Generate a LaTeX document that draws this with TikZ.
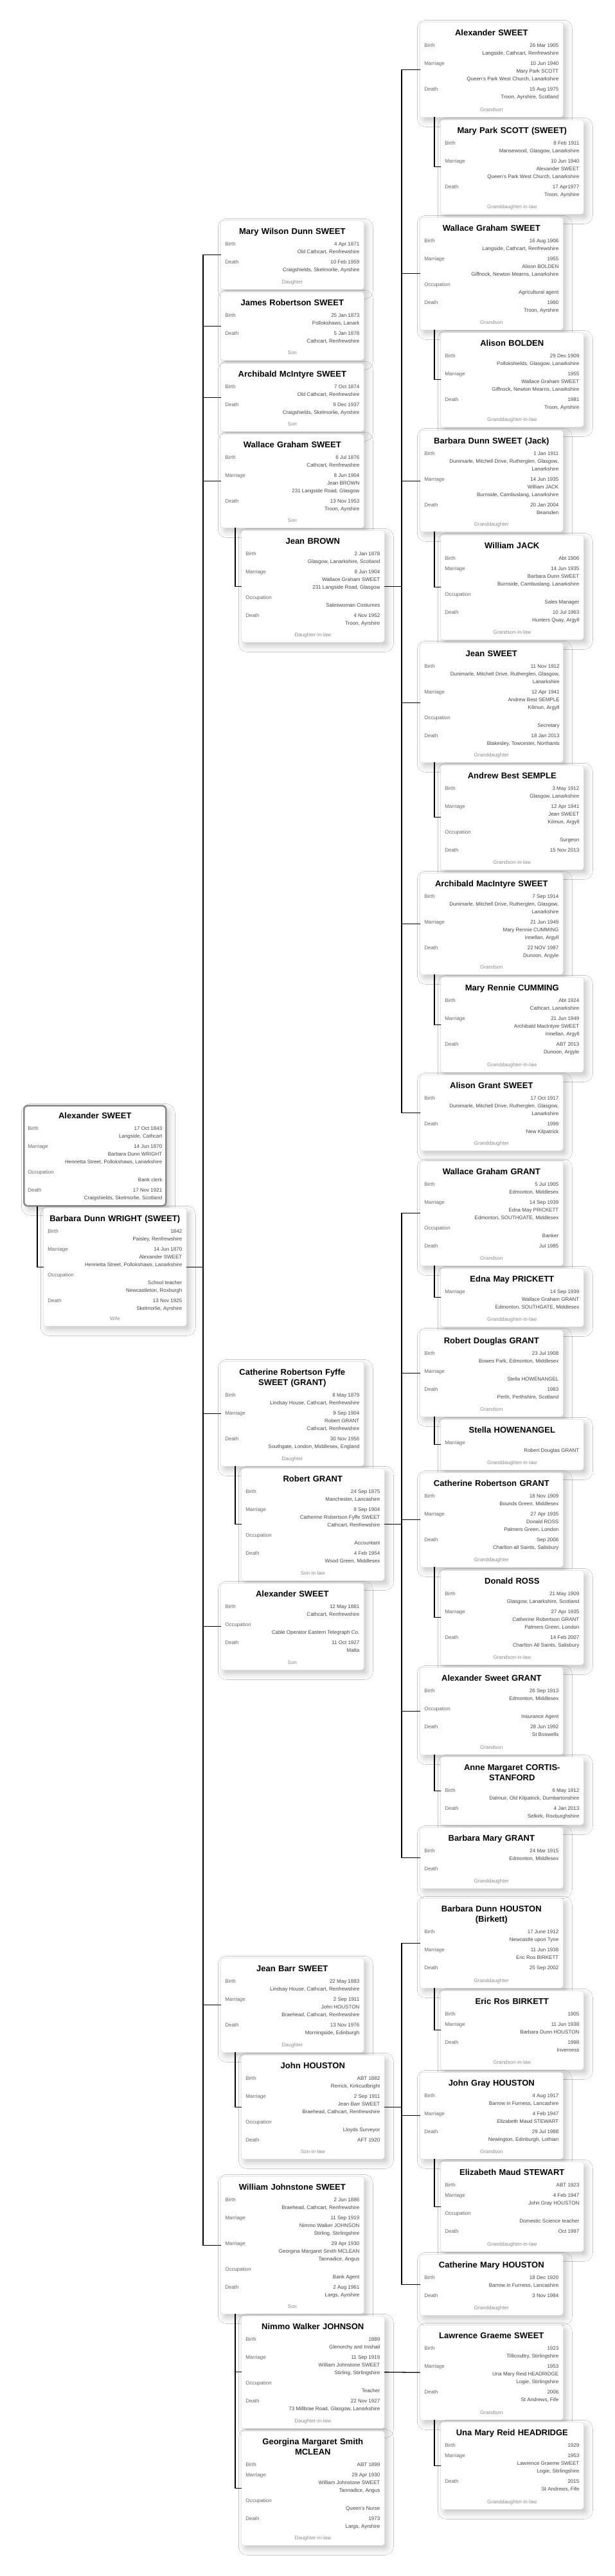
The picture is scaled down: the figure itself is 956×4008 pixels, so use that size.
\documentclass[tikz,border=0pt]{standalone}
\usepackage{fontspec}
\setmainfont{Liberation Sans}
\usepackage{array}
\usepackage{tikz}
\usetikzlibrary{positioning, calc, shadows.blur}
\usepackage{xcolor}

\definecolor{cardline}{HTML}{DDDDDD}
\definecolor{rootline}{HTML}{8A8A8A}
\definecolor{labelgrey}{HTML}{666666}
\definecolor{valuegrey}{HTML}{444444}
\definecolor{relgrey}{HTML}{8C8C8C}

% id, extra style, x, top, height, name, rows, relation
\newcommand{\card}[8]{%
  \node [card, #2, minimum height=#5pt] (#1) at (#3,#4) {};
  \node [cardtitle] (#1-t) at ([yshift=-10.5pt]#1.north) {\strut #6\strut};
  \node [cardrows] (#1-r) at ([yshift=-4pt]#1-t.south) {\begin{tabular*}{209pt}[t]{@{}>{\color{labelgrey}}l@{\extracolsep{\fill}}>{\color{valuegrey}}r@{}}#7\end{tabular*}};
  \node [cardrel] (#1-l) at ([yshift=9pt]#1.south) {#8};
}

\begin{document}
\begin{tikzpicture}[
    x=1pt, y=-1pt,
    card/.style={draw=cardline, fill=white, line width=0.6pt, rounded corners=4pt, minimum width=223pt, inner sep=0pt, anchor=north west,
      blur shadow={shadow xshift=5pt, shadow yshift=-6pt, shadow blur radius=9pt, shadow opacity=22}},
    rootcard/.style={draw=rootline, line width=2.6pt, rounded corners=6pt, minimum width=221pt},
    cardtitle/.style={anchor=north, text width=209pt, align=center, inner sep=0pt, font=\fontsize{13}{16}\selectfont\bfseries},
    cardrows/.style={anchor=north, inner sep=0pt, font=\fontsize{8}{12}\selectfont},
    cardrel/.style={anchor=base, inner sep=0pt, text=relgrey, font=\fontsize{8}{10}\selectfont},
    link/.style={draw, line width=1.3pt, line cap=rect}
]

    \path [use as bounding box, fill=white] (0,0) rectangle (956,4008);

    % the couple
    \card{root}{rootcard}{36}{1719}{156}{Alexander SWEET}{Birth & 17 Oct 1843\\ & Langside, Cathcart\\[4pt] Marriage & 14 Jun 1870\\ & Barbara Dunn WRIGHT\\ & Henrietta Street, Pollokshaws, Lanarkshire\\[4pt] Occupation & \\ & Bank clerk\\[4pt] Death & 17 Nov 1921\\ & Craigshields, Skelmorlie, Scotland}{}
    \card{wright}{}{67}{1879}{184}{Barbara Dunn WRIGHT (SWEET)}{Birth & 1842\\ & Paisley, Renfrewshire\\[4pt] Marriage & 14 Jun 1870\\ & Alexander SWEET\\ & Henrietta Street, Pollokshaws, Lanarkshire\\[4pt] Occupation & \\ & School teacher\\ & Newcastleton, Roxburgh\\[4pt] Death & 13 Nov 1925\\ & Skelmorlie, Ayrshire}{Wife}

    % children
    \card{mary}{}{343}{343}{107}{Mary Wilson Dunn SWEET}{Birth & 4 Apr 1871\\ & Old Cathcart, Renfrewshire\\[4pt] Death & 10 Feb 1959\\ & Craigshields, Skelmorlie, Ayrshire}{Daughter}
    \card{james}{}{343}{454}{106}{James Robertson SWEET}{Birth & 25 Jan 1873\\ & Pollokshaws, Lanark\\[4pt] Death & 5 Jan 1878\\ & Cathcart, Renfrewshire}{Son}
    \card{archie}{}{343}{565}{106}{Archibald McIntyre SWEET}{Birth & 7 Oct 1874\\ & Old Cathcart, Renfrewshire\\[4pt] Death & 9 Dec 1937\\ & Craigshields, Skelmorlie, Ayrshire}{Son}
    \card{wallace}{}{343}{675}{146}{Wallace Graham SWEET}{Birth & 6 Jul 1876\\ & Cathcart, Renfrewshire\\[4pt] Marriage & 8 Jun 1904\\ & Jean BROWN\\ & 231 Langside Road, Glasgow\\[4pt] Death & 13 Nov 1953\\ & Troon, Ayrshire}{Son}
    \card{brown}{}{375}{825}{174}{Jean BROWN}{Birth & 2 Jan 1878\\ & Glasgow, Lanarkshire, Scotland\\[4pt] Marriage & 8 Jun 1904\\ & Wallace Graham SWEET\\ & 231 Langside Road, Glasgow\\[4pt] Occupation & \\ & Saleswoman Costumes\\[4pt] Death & 4 Nov 1952\\ & Troon, Ayrshire}{Daughter-in-law}
    \card{cathy}{}{343}{2118}{163}{Catherine Robertson Fyffe\\SWEET (GRANT)}{Birth & 8 May 1879\\ & Lindsay House, Cathcart, Renfrewshire\\[4pt] Marriage & 9 Sep 1904\\ & Robert GRANT\\ & Cathcart, Renfrewshire\\[4pt] Death & 30 Nov 1956\\ & Southgate, London, Middlesex, England}{Daughter}
    \card{rgrant}{}{375}{2284}{175}{Robert GRANT}{Birth & 24 Sep 1875\\ & Manchester, Lancashire\\[4pt] Marriage & 9 Sep 1904\\ & Catherine Robertson Fyffe SWEET\\ & Cathcart, Renfrewshire\\[4pt] Occupation & \\ & Accountant\\[4pt] Death & 4 Feb 1954\\ & Wood Green, Middlesex}{Son-in-law}
    \card{alex}{}{343}{2463}{135}{Alexander SWEET}{Birth & 12 May 1881\\ & Cathcart, Renfrewshire\\[4pt] Occupation & \\ & Cable Operator Eastern Telegraph Co.\\[4pt] Death & 11 Oct 1927\\ & Malta}{Son}
    \card{jeanb}{}{343}{3046}{147}{Jean Barr SWEET}{Birth & 22 May 1883\\ & Lindsay House, Cathcart, Renfrewshire\\[4pt] Marriage & 2 Sep 1911\\ & John HOUSTON\\ & Braehead, Cathcart, Renfrewshire\\[4pt] Death & 13 Nov 1976\\ & Morningside, Edinburgh}{Daughter}
    \card{jhouston}{}{375}{3197}{162}{John HOUSTON}{Birth & ABT 1882\\ & Rerrick, Kirkcudbright\\[4pt] Marriage & 2 Sep 1911\\ & Jean Barr SWEET\\ & Braehead, Cathcart, Renfrewshire\\[4pt] Occupation & \\ & Lloyds Surveyor\\[4pt] Death & AFT 1920}{Son-in-law}
    \card{william}{}{343}{3386}{214}{William Johnstone SWEET}{Birth & 2 Jun 1886\\ & Braehead, Cathcart, Renfrewshire\\[4pt] Marriage & 11 Sep 1919\\ & Nimmo Walker JOHNSON\\ & Stirling, Stirlingshire\\[4pt] Marriage & 29 Apr 1930\\ & Georgina Margaret Smith MCLEAN\\ & Tannadice, Angus\\[4pt] Occupation & \\ & Bank Agent\\[4pt] Death & 2 Aug 1961\\ & Largs, Ayrshire}{Son}
    \card{nimmo}{}{375}{3603}{175}{Nimmo Walker JOHNSON}{Birth & 1889\\ & Glenorchy and Inishail\\[4pt] Marriage & 11 Sep 1919\\ & William Johnstone SWEET\\ & Stirling, Stirlingshire\\[4pt] Occupation & \\ & Teacher\\[4pt] Death & 22 Nov 1927\\ & 73 Millbrae Road, Glasgow, Lanarkshire}{Daughter-in-law}
    \card{georgina}{}{375}{3782}{178}{Georgina Margaret Smith\\MCLEAN}{Birth & ABT 1899\\[4pt] Marriage & 29 Apr 1930\\ & William Johnstone SWEET\\ & Tannadice, Angus\\[4pt] Occupation & \\ & Queen's Nurse\\[4pt] Death & 1973\\ & Largs, Ayrshire}{Daughter-in-law}

    % grandchildren
    \card{alexg}{}{653}{34}{148}{Alexander SWEET}{Birth & 26 Mar 1905\\ & Langside, Cathcart, Renfrewshire\\[4pt] Marriage & 10 Jun 1940\\ & Mary Park SCOTT\\ & Queen's Park West Church, Lanarkshire\\[4pt] Death & 15 Aug 1975\\ & Troon, Ayrshire, Scotland}{Grandson}
    \card{scott}{}{685}{186}{147}{Mary Park SCOTT (SWEET)}{Birth & 8 Feb 1911\\ & Mansewood, Glasgow, Lanarkshire\\[4pt] Marriage & 10 Jun 1940\\ & Alexander SWEET\\ & Queen's Park West Church, Lanarkshire\\[4pt] Death & 17 Apr1977\\ & Troon, Ayrshire}{Granddaughter-in-law}
    \card{wallg}{}{653}{338}{175}{Wallace Graham SWEET}{Birth & 16 Aug 1906\\ & Langside, Cathcart, Renfrewshire\\[4pt] Marriage & 1955\\ & Alison BOLDEN\\ & Giffnock, Newton Mearns, Lanarkshire\\[4pt] Occupation & \\ & Agricultural agent\\[4pt] Death & 1980\\ & Troon, Ayrshire}{Grandson}
    \card{bolden}{}{685}{517}{147}{Alison BOLDEN}{Birth & 29 Dec 1909\\ & Pollokshields, Glasgow, Lanarkshire\\[4pt] Marriage & 1955\\ & Wallace Graham SWEET\\ & Giffnock, Newton Mearns, Lanarkshire\\[4pt] Death & 1981\\ & Troon, Ayrshire}{Granddaughter-in-law}
    \card{barbj}{}{653}{669}{158}{Barbara Dunn SWEET (Jack)}{Birth & 1 Jan 1911\\ & Dunimarle, Mitchell Drive, Rutherglen, Glasgow,\\ & Lanarkshire\\[4pt] Marriage & 14 Jun 1935\\ & William JACK\\ & Burnside, Cambuslang, Lanarkshire\\[4pt] Death & 20 Jan 2004\\ & Bearsden}{Granddaughter}
    \card{jack}{}{685}{832}{163}{William JACK}{Birth & Abt 1906\\[4pt] Marriage & 14 Jun 1935\\ & Barbara Dunn SWEET\\ & Burnside, Cambuslang, Lanarkshire\\[4pt] Occupation & \\ & Sales Manager\\[4pt] Death & 10 Jul 1963\\ & Hunters Quay, Argyll}{Grandson-in-law}
    \card{jeans}{}{653}{1000}{186}{Jean SWEET}{Birth & 11 Nov 1912\\ & Dunimarle, Mitchell Drive, Rutherglen, Glasgow,\\ & Lanarkshire\\[4pt] Marriage & 12 Apr 1941\\ & Andrew Best SEMPLE\\ & Kilmun, Argyll\\[4pt] Occupation & \\ & Secretary\\[4pt] Death & 18 Jan 2013\\ & Blakesley, Towcester, Northants}{Granddaughter}
    \card{semple}{}{685}{1190}{163}{Andrew Best SEMPLE}{Birth & 3 May 1912\\ & Glasgow, Lanarkshire\\[4pt] Marriage & 12 Apr 1941\\ & Jean SWEET\\ & Kilmun, Argyll\\[4pt] Occupation & \\ & Surgeon\\[4pt] Death & 15 Nov 2013}{Grandson-in-law}
    \card{archg}{}{653}{1358}{158}{Archibald MacIntyre SWEET}{Birth & 7 Sep 1914\\ & Dunimarle, Mitchell Drive, Rutherglen, Glasgow,\\ & Lanarkshire\\[4pt] Marriage & 21 Jun 1949\\ & Mary Rennie CUMMING\\ & Innellan, Argyll\\[4pt] Death & 22 NOV 1987\\ & Dunoon, Argyle}{Grandson}
    \card{cumming}{}{685}{1520}{148}{Mary Rennie CUMMING}{Birth & Abt 1924\\ & Cathcart, Lanarkshire\\[4pt] Marriage & 21 Jun 1949\\ & Archibald MacIntyre SWEET\\ & Innellan, Argyll\\[4pt] Death & ABT 2013\\ & Dunoon, Argyle}{Granddaughter-in-law}
    \card{alison}{}{653}{1672}{118}{Alison Grant SWEET}{Birth & 17 Oct 1917\\ & Dunimarle, Mitchell Drive, Rutherglen, Glasgow,\\ & Lanarkshire\\[4pt] Death & 1999\\ & New Kilpatrick}{Granddaughter}

    \card{wgrant}{}{653}{1806}{163}{Wallace Graham GRANT}{Birth & 5 Jul 1905\\ & Edmonton, Middlesex\\[4pt] Marriage & 14 Sep 1939\\ & Edna May PRICKETT\\ & Edmonton, SOUTHGATE, Middlesex\\[4pt] Occupation & \\ & Banker\\[4pt] Death & Jul 1985}{Grandson}
    \card{prickett}{}{685}{1973}{91}{Edna May PRICKETT}{Marriage & 14 Sep 1939\\ & Wallace Graham GRANT\\ & Edmonton, SOUTHGATE, Middlesex}{Granddaughter-in-law}
    \card{rdgrant}{}{653}{2069}{135}{Robert Douglas GRANT}{Birth & 23 Jul 1908\\ & Bowes Park, Edmonton, Middlesex\\[4pt] Marriage & \\ & Stella HOWENANGEL\\[4pt] Death & 1983\\ & Perth, Perthshire, Scotland}{Grandson}
    \card{howen}{}{685}{2208}{79}{Stella HOWENANGEL}{Marriage & \\ & Robert Douglas GRANT}{Granddaughter-in-law}
    \card{crgrant}{}{653}{2291}{147}{Catherine Robertson GRANT}{Birth & 18 Nov 1909\\ & Bounds Green, Middlesex\\[4pt] Marriage & 27 Apr 1935\\ & Donald ROSS\\ & Palmers Green, London\\[4pt] Death & Sep 2006\\ & Charlton all Saints, Salisbury}{Granddaughter}
    \card{ross}{}{685}{2443}{147}{Donald ROSS}{Birth & 21 May 1909\\ & Glasgow, Lanarkshire, Scotland\\[4pt] Marriage & 27 Apr 1935\\ & Catherine Robertson GRANT\\ & Palmers Green, London\\[4pt] Death & 14 Feb 2007\\ & Charlton All Saints, Salisbury}{Grandson-in-law}
    \card{asgrant}{}{653}{2594}{136}{Alexander Sweet GRANT}{Birth & 26 Sep 1913\\ & Edmonton, Middlesex\\[4pt] Occupation & \\ & Insurance Agent\\[4pt] Death & 28 Jun 1992\\ & St Boswells}{Grandson}
    \card{cortis}{}{685}{2733}{106}{Anne Margaret CORTIS-\\STANFORD}{Birth & 6 May 1912\\ & Dalmuir, Old Kilpatrick, Dumbartonshire\\[4pt] Death & 4 Jan 2013\\ & Selkirk, Roxburghshire}{}
    \card{bmgrant}{}{653}{2843}{95}{Barbara Mary GRANT}{Birth & 24 Mar 1915\\ & Edmonton, Middlesex\\[4pt] Death & }{Granddaughter}

    \card{bdhouston}{}{653}{2953}{140}{Barbara Dunn HOUSTON\\(Birkett)}{Birth & 17 June 1912\\ & Newcastle upon Tyne\\[4pt] Marriage & 11 Jun 1938\\ & Eric Ros BIRKETT\\[4pt] Death & 25 Sep 2002}{Granddaughter}
    \card{birkett}{}{685}{3097}{123}{Eric Ros BIRKETT}{Birth & 1905\\[4pt] Marriage & 11 Jun 1938\\ & Barbara Dunn HOUSTON\\[4pt] Death & 1998\\ & Inverness}{Grandson-in-law}
    \card{jghouston}{}{653}{3224}{135}{John Gray HOUSTON}{Birth & 4 Aug 1917\\ & Barrow in Furness, Lancashire\\[4pt] Marriage & 4 Feb 1947\\ & Elizabeth Maud STEWART\\[4pt] Death & 29 Jul 1988\\ & Newington, Edinburgh, Lothian}{Grandson}
    \card{stewart}{}{685}{3363}{140}{Elizabeth Maud STEWART}{Birth & ABT 1923\\[4pt] Marriage & 4 Feb 1947\\ & John Gray HOUSTON\\[4pt] Occupation & \\ & Domestic Science teacher\\[4pt] Death & Oct 1997}{Granddaughter-in-law}
    \card{cmhouston}{}{653}{3507}{95}{Catherine Mary HOUSTON}{Birth & 18 Dec 1920\\ & Barrow in Furness, Lancashire\\[4pt] Death & 3 Nov 1984}{Granddaughter}

    \card{lawrence}{}{653}{3617}{148}{Lawrence Graeme SWEET}{Birth & 1923\\ & Tillicoultry, Stirlingshire\\[4pt] Marriage & 1953\\ & Una Mary Reid HEADRIDGE\\ & Logie, Stirlingshire\\[4pt] Death & 2006\\ & St Andrews, Fife}{Grandson}
    \card{headridge}{}{685}{3768}{136}{Una Mary Reid HEADRIDGE}{Birth & 1929\\[4pt] Marriage & 1953\\ & Lawrence Graeme SWEET\\ & Logie, Stirlingshire\\[4pt] Death & 2015\\ & St Andrews, Fife}{Granddaughter-in-law}

    % connectors
    \coordinate (spine1) at (316,0);
    \coordinate (spine2) at (625,0);

    \draw [link] ([xshift=22pt]root.south west) |- (wright.west);
    \draw [link] (wright.east) -- (wright.east -| spine1);
    \draw [link] (mary.west -| spine1) -- (william.west -| spine1);
    \foreach \kid in {mary, james, archie, wallace, cathy, alex, jeanb, william}
        \draw [link] (\kid.west -| spine1) -- (\kid.west);

    \foreach \who/\mate in {wallace/brown, cathy/rgrant, jeanb/jhouston, william/nimmo, william/georgina,
        alexg/scott, wallg/bolden, barbj/jack, jeans/semple, archg/cumming, wgrant/prickett, rdgrant/howen,
        crgrant/ross, asgrant/cortis, bdhouston/birkett, jghouston/stewart, lawrence/headridge}
        \draw [link] ([xshift=23pt]\who.south west) |- (\mate.west);

    \draw [link] (brown.east) -- (brown.east -| spine2);
    \draw [link] (alexg.west -| spine2) -- (alison.west -| spine2);
    \foreach \kid in {alexg, wallg, barbj, jeans, archg, alison}
        \draw [link] (\kid.west -| spine2) -- (\kid.west);

    \draw [link] (rgrant.east) -- (rgrant.east -| spine2);
    \draw [link] (wgrant.west -| spine2) -- (bmgrant.west -| spine2);
    \foreach \kid in {wgrant, rdgrant, crgrant, asgrant, bmgrant}
        \draw [link] (\kid.west -| spine2) -- (\kid.west);

    \draw [link] (jhouston.east) -- (jhouston.east -| spine2);
    \draw [link] (bdhouston.west -| spine2) -- (cmhouston.west -| spine2);
    \foreach \kid in {bdhouston, jghouston, cmhouston}
        \draw [link] (\kid.west -| spine2) -- (\kid.west);

    \draw [link] (nimmo.east) -- (lawrence.west);

\end{tikzpicture}
\end{document}
